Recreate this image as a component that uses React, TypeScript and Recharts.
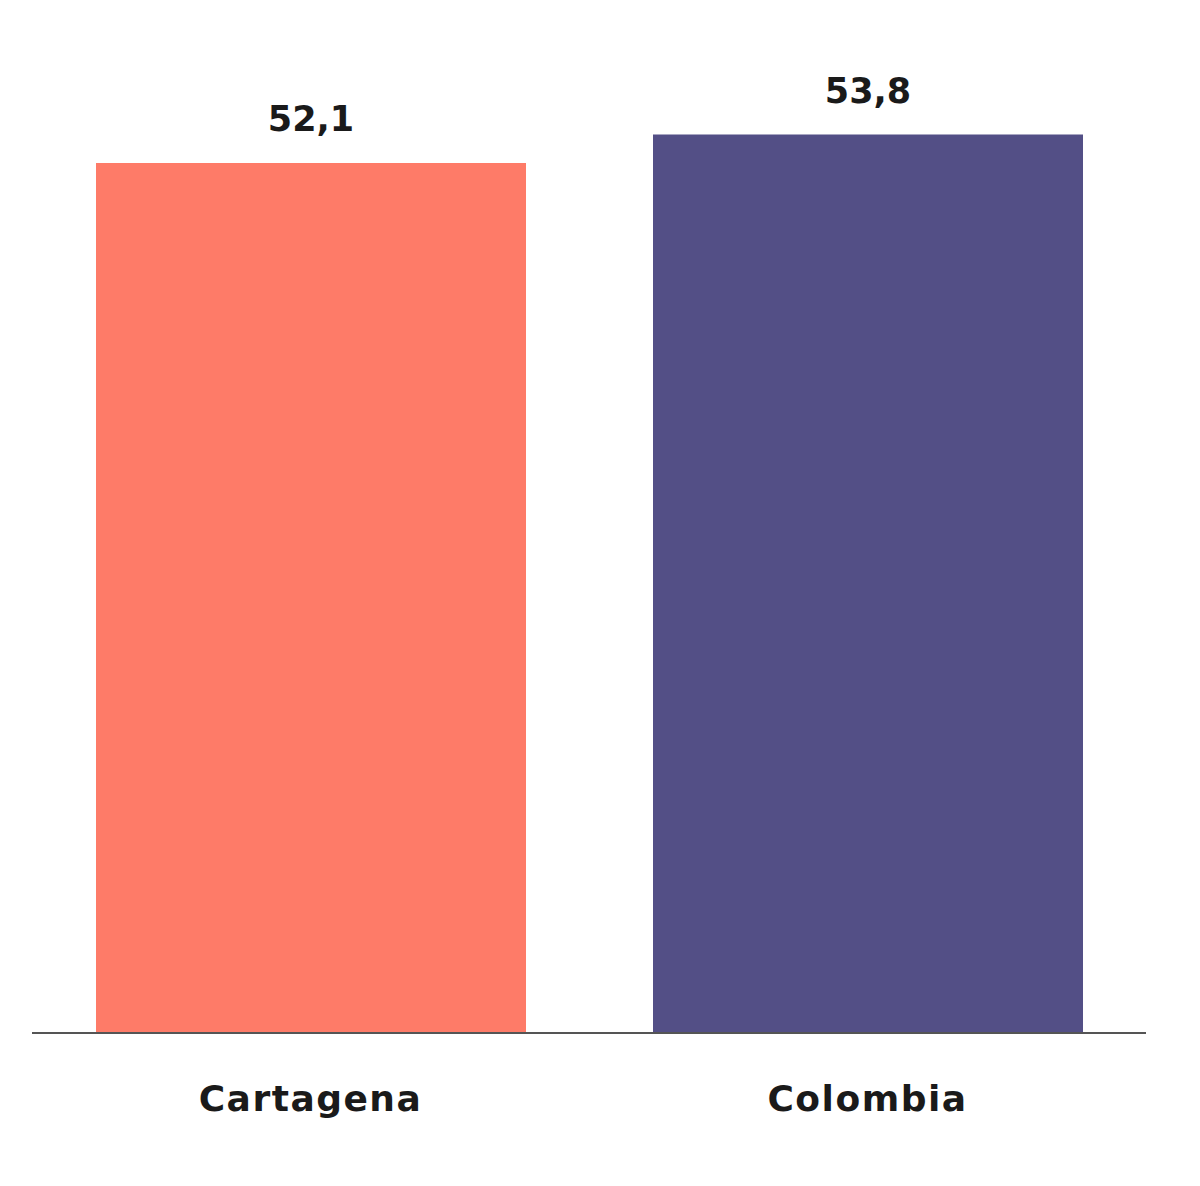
import React from 'react';
import { BarChart, Bar, XAxis, YAxis, Cell, LabelList } from 'recharts';

const categories = ['Cartagena', 'Colombia'];
const values = [52.1, 53.8];
const colors = ['#FE7B68', '#534F86'];

const data = categories.map((name, i) => ({ name, value: values[i] }));

const fmt = (v: number) => v.toFixed(1).replace('.', ',');

const textFont = '"DejaVu Sans", sans-serif';

export default function App() {
  return (
    <div style={{ position: 'absolute', left: 0, top: 0, background: '#fff' }}>
      <BarChart width={1200} height={1186} data={data} margin={{ top: 31, right: 54, bottom: 0, left: 32 }}>
        <XAxis
          dataKey="name"
          height={153}
          axisLine={{ stroke: '#555', strokeWidth: 2 }}
          tickLine={false}
          tickSize={0}
          tickMargin={52}
          tick={{ fill: '#1a1a1a', fontSize: 36, fontWeight: 700, fontFamily: textFont, letterSpacing: 1.5 }}
        />
        <YAxis hide domain={[0, 60]} />
        <Bar dataKey="value" barSize={430} isAnimationActive={false}>
          {data.map((d, i) => (
            <Cell key={d.name} fill={colors[i]} />
          ))}
          <LabelList
            dataKey="value"
            position="top"
            offset={32}
            formatter={(v: number) => fmt(v)}
            style={{ fill: '#1a1a1a', fontSize: 35, fontWeight: 700, fontFamily: textFont }}
          />
        </Bar>
      </BarChart>
    </div>
  );
}
